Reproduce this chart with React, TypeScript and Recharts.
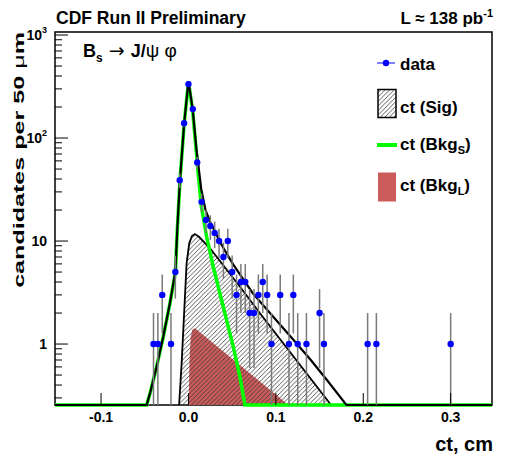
import { Area, ComposedChart, ErrorBar, Line, Scatter, XAxis, YAxis } from 'recharts';

// proper decay length ct (cm), histogram bins of 50 um
const dataCt = [
  -0.04, -0.035, -0.03, -0.02, -0.015, -0.01, -0.005, 0, 0.005, 0.01, 0.015, 0.02, 0.025, 0.03, 0.035, 0.04,
  0.045, 0.05, 0.055, 0.06, 0.065, 0.07, 0.075, 0.08, 0.085, 0.09, 0.095, 0.105, 0.115, 0.12, 0.125, 0.135,
  0.15, 0.155, 0.205, 0.215, 0.3,
];
const dataCounts = [
  1, 1, 3, 1, 5, 39, 139, 334, 191, 58, 24, 16, 14, 12, 10, 7,
  10, 5, 3, 4, 4, 2, 2, 3, 4, 3, 1, 3, 1, 3, 1, 1,
  2, 1, 1, 1, 1,
];

// fit components
const totalCt = [
  -0.1527, -0.0478, -0.0441, -0.0365, -0.0288, -0.0212, -0.0149, -0.0128, -0.0097, -0.0048, 0, 0.0048, 0.0094,
  0.0146, 0.0195, 0.0246, 0.0301, 0.0352, 0.0398, 0.0513, 0.0737, 0.1, 0.12, 0.14, 0.16, 0.1807, 0.3473,
];
const totalVal = [
  0.256, 0.256, 0.33, 0.6, 1.18, 2.5, 5.1, 13, 39.5, 142, 355, 192, 74,
  32, 20, 15.5, 12.5, 10.2, 8.6, 5.9, 3.1, 1.72, 1.1, 0.7, 0.43, 0.256, 0.256,
];

const bkgSCt = [
  -0.1527, -0.0478, -0.0441, -0.0365, -0.0288, -0.0212, -0.0149, -0.0128, -0.0097, -0.0048, 0, 0.0048, 0.01,
  0.0146, 0.0208, 0.0284, 0.0398, 0.0513, 0.0589, 0.0646, 0.3473,
];
const bkgSVal = [
  0.256, 0.256, 0.33, 0.6, 1.18, 2.48, 5.0, 12.8, 39, 140, 350, 185, 58,
  22, 11, 5.6, 2.3, 0.94, 0.48, 0.256, 0.256,
];

const sigCt = [-0.0107, -0.0078, -0.004, -0.0021, 0.0009, 0.004, 0.0074, 0.012, 0.0247, 0.059, 0.0818, 0.1632];
const sigVal = [0.256, 0.65, 2.9, 6.1, 9.5, 11.2, 11.7, 11.0, 8.5, 3.6, 1.99, 0.256];

const bkgLCt = [0.0003, 0.0012, 0.0025, 0.0045, 0.0075, 0.1144];
const bkgLVal = [0.256, 0.7, 1.15, 1.38, 1.42, 0.256];

const xTicks = [-0.1, 0, 0.1, 0.2, 0.3];
const yTicks = [
  0.3, 0.4, 0.5, 0.6, 0.7, 0.8, 0.9, 1, 2, 3, 4, 5, 6, 7, 8, 9, 10, 20, 30, 40, 50, 60, 70, 80, 90,
  100, 200, 300, 400, 500, 600, 700, 800, 900, 1000,
];

const Y_MIN = 0.256;
const Y_MAX = 1070;
const FONT = '"Liberation Sans", Arial, Helvetica, sans-serif';

// plot frame inside the svg
const PL = 47;
const PR = 484;
const PT = 24;
const PB = 397;

const zip = (xs: number[], ys: number[]) => xs.map((x, i) => ({ x, y: ys[i] }));

const points = dataCt.map((x, i) => {
  const n = dataCounts[i];
  const e = Math.sqrt(n);
  return { x, y: n, err: [n - Math.max(n - e, Y_MIN), e] };
});
const total = zip(totalCt, totalVal);
const bkgS = zip(bkgSCt, bkgSVal);
const sig = zip(sigCt, sigVal);
const bkgL = zip(bkgLCt, bkgLVal);

function XTick(props: any) {
  const { x, payload } = props;
  return (
    <g>
      <line x1={x} x2={x} y1={PB} y2={PB - 12} stroke="#000" strokeWidth={1} />
      <text x={x} y={PB + 17} textAnchor="middle" fontFamily={FONT} fontWeight="bold" fontSize={14} fill="#000">
        {Number(payload.value).toFixed(1)}
      </text>
    </g>
  );
}

function YTick(props: any) {
  const { y, payload } = props;
  const v = payload.value;
  const major = v === 1 || v === 10 || v === 100 || v === 1000;
  const label = v === 1 ? '1' : v === 10 ? '10' : null;
  return (
    <g>
      <line x1={PL} x2={PL + (major ? 13 : 7)} y1={y} y2={y} stroke="#000" strokeWidth={1} />
      {major && (
        <text x={PL - 8} y={y + 5} textAnchor="end" fontFamily={FONT} fontWeight="bold" fontSize={14} fill="#000">
          {label ?? (
            <>
              10
              <tspan dy={-7} fontSize={9}>
                {v === 100 ? '2' : '3'}
              </tspan>
            </>
          )}
        </text>
      )}
    </g>
  );
}

function Dot(props: any) {
  const { cx, cy } = props;
  if (cx == null || cy == null) return null;
  return <circle cx={cx} cy={cy} r={3.2} fill="#0000ff" />;
}

function Decorations() {
  const t = { fontFamily: FONT, fontWeight: 'bold' as const, fill: '#000' };
  return (
    <svg width={498} height={448} style={{ position: 'absolute', left: 0, top: 0 }}>
      <defs>
        <pattern id="legHatch" patternUnits="userSpaceOnUse" width={4.5} height={4.5}>
          <path d="M0,4.5 L4.5,0 M-1,1 L1,-1 M3.5,5.5 L5.5,3.5" stroke="#333" strokeWidth={0.8} />
        </pattern>
      </defs>
      <rect x={PL} y={PT} width={PR - PL} height={PB - PT} fill="none" stroke="#000" strokeWidth={1.5} />

      <text x={48} y={16} fontSize={17.5} {...t}>
        CDF Run II Preliminary
      </text>
      <text x={485} y={16} fontSize={17} textAnchor="end" {...t}>
        L ≈ 138 pb
        <tspan dy={-7} fontSize={11}>
          -1
        </tspan>
      </text>

      <text x={75} y={49} fontSize={18} {...t}>
        B
        <tspan dy={5} fontSize={12}>
          s
        </tspan>
        <tspan dy={-5} fontFamily='"DejaVu Sans", sans-serif' fontWeight="normal" fontSize={19}>
          {' → '}
        </tspan>
        <tspan>J/</tspan>
        <tspan fontWeight="normal" fontSize={19}>
          ψ φ
        </tspan>
      </text>

      <text x={PR + 1} y={443} fontSize={20} textAnchor="end" {...t}>
        ct, cm
      </text>
      <g transform="translate(15.5,24) rotate(-90) scale(1.62,1)">
        <text x={0} y={0} fontSize={15.5} textAnchor="end" {...t}>
          candidates per 50 <tspan fontWeight="normal">μ</tspan>m
        </text>
      </g>

      {/* legend */}
      <line x1={369} x2={387} y1={55} y2={55} stroke="#0000ff" strokeWidth={1} />
      <circle cx={378} cy={55} r={3.2} fill="#0000ff" />
      <text x={392} y={62} fontSize={17} {...t}>
        data
      </text>

      <rect x={370} y={81.5} width={18} height={28} fill="url(#legHatch)" stroke="#000" strokeWidth={1.5} />
      <text x={392} y={105} fontSize={17} {...t}>
        ct (Sig)
      </text>

      <line x1={369} x2={389} y1={137} y2={137} stroke="#00ff00" strokeWidth={4} />
      <text x={392} y={142} fontSize={17} {...t}>
        ct (Bkg
        <tspan dy={4} fontSize={11}>
          S
        </tspan>
        <tspan dy={-4}>)</tspan>
      </text>

      <rect x={370} y={164.5} width={18} height={29} fill="#cc5c5c" />
      <text x={392} y={183} fontSize={17} {...t}>
        ct (Bkg
        <tspan dy={4} fontSize={11}>
          L
        </tspan>
        <tspan dy={-4}>)</tspan>
      </text>
    </svg>
  );
}

export default function App() {
  return (
    <div style={{ position: 'relative', width: 498, height: 448 }}>
      <Decorations />
      <div style={{ position: 'absolute', left: 0, top: 0 }}>
        <ComposedChart width={498} height={448} margin={{ top: PT, right: 498 - PR, left: 0, bottom: 0 }}>
          <defs>
            <pattern id="sigHatch" patternUnits="userSpaceOnUse" width={4.5} height={4.5}>
              <path d="M0,4.5 L4.5,0 M-1,1 L1,-1 M3.5,5.5 L5.5,3.5" stroke="#333" strokeWidth={0.8} />
            </pattern>
          </defs>
          <XAxis
            type="number"
            dataKey="x"
            domain={[-0.1527, 0.3473]}
            ticks={xTicks}
            interval={0}
            height={448 - PB}
            axisLine={false}
            tickLine={false}
            tick={(p: any) => <XTick {...p} />}
          />
          <YAxis
            type="number"
            scale="log"
            domain={[Y_MIN, Y_MAX]}
            ticks={yTicks}
            interval={0}
            width={PL}
            axisLine={false}
            tickLine={false}
            tick={(p: any) => <YTick {...p} />}
          />
          <Area
            data={bkgL}
            dataKey="y"
            type="linear"
            baseValue="dataMin"
            fill="#cc5c5c"
            fillOpacity={1}
            stroke="none"
            isAnimationActive={false}
          />
          <Area
            data={sig}
            dataKey="y"
            type="linear"
            baseValue="dataMin"
            fill="url(#sigHatch)"
            fillOpacity={1}
            stroke="#000"
            strokeWidth={1.8}
            isAnimationActive={false}
          />
          <Line data={bkgS} dataKey="y" type="linear" stroke="#00ff00" strokeWidth={3.5} dot={false} isAnimationActive={false} />
          <Line data={total} dataKey="y" type="linear" stroke="#000" strokeWidth={2.2} dot={false} isAnimationActive={false} />
          <Scatter data={points} dataKey="y" fill="#0000ff" shape={(p: any) => <Dot {...p} />} isAnimationActive={false}>
            <ErrorBar dataKey="err" direction="y" width={0} stroke="#7a7a7a" strokeWidth={1.5} />
          </Scatter>
        </ComposedChart>
      </div>
    </div>
  );
}
